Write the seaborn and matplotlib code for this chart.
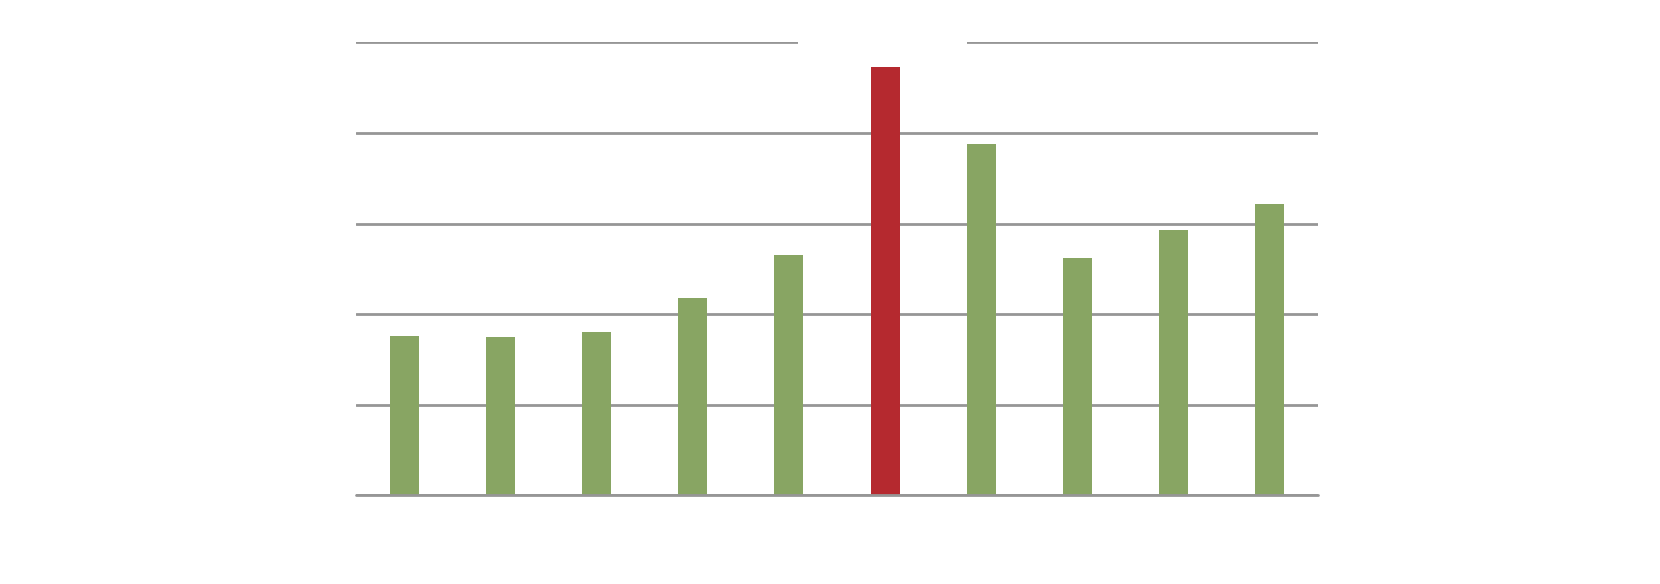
import matplotlib
matplotlib.use("Agg")
import matplotlib.pyplot as plt
import seaborn as sns
from matplotlib.patches import Rectangle

# data (unit = one gridline step)
categories = ["C1", "C2", "C3", "C4", "C5", "C6", "C7", "C8", "C9", "C10"]
values = [1.755, 1.75, 1.80, 2.175, 2.655, 4.73, 3.88, 2.62, 2.93, 3.213]
highlight = "C6"

GREEN = "#88A563"
RED = "#B5292F"
GRID = "#969696"

sns.set_theme(style="white")
plt.rcParams["font.family"] = ["DejaVu Sans"]

fig = plt.figure(figsize=(16.6, 5.84), dpi=100)
ax = fig.add_axes([356 / 1660, 88.6 / 584, 962 / 1660, 453.1 / 584])

palette = {c: (RED if c == highlight else GREEN) for c in categories}
sns.barplot(
    x=categories, y=values, hue=categories, palette=palette,
    width=0.3, saturation=1, legend=False, ax=ax, zorder=3,
    edgecolor="none", linewidth=0
)

ax.set_ylim(0, 5)
ax.set_xlim(-0.5, len(categories) - 0.5)
ax.yaxis.grid(True, color=GRID, linewidth=2, zorder=1)
ax.set_axisbelow(True)
ax.axhline(0, color=GRID, linewidth=2, zorder=4, clip_on=False)

# empty title box interrupts the top gridline
ax.add_patch(Rectangle((0.4595, 0.97), 0.1755, 0.06, transform=ax.transAxes,
                       facecolor="white", edgecolor="none", zorder=2, clip_on=False))

for s in ax.spines.values():
    s.set_visible(False)
ax.set_xticks([])
ax.set_yticks(range(6), [""] * 6)
ax.tick_params(length=0)
ax.set_xlabel("")
ax.set_ylabel("")

fig.savefig("out.png", dpi=100, facecolor="white")
